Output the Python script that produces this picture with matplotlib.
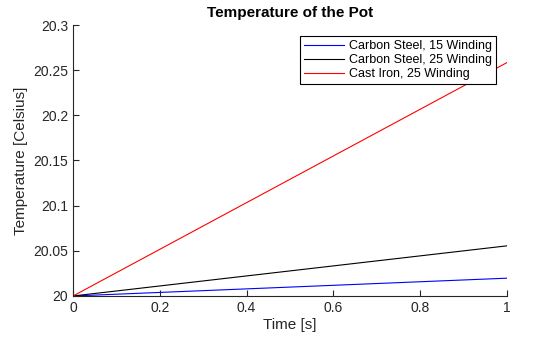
import numpy as np
import matplotlib.pyplot as plt

plt.rcParams['font.family'] = ['Liberation Sans', 'DejaVu Sans']

t = [0, 1]
steel_15 = [20.0, 20.0197]
steel_25 = [20.0, 20.0555]
iron_25 = [20.0, 20.2583]
labels = ['Carbon Steel, 15 Winding', 'Carbon Steel, 25 Winding', 'Cast Iron, 25 Winding']

fig = plt.figure(figsize=(5.6, 3.37), dpi=100)
ax = fig.add_axes([0.1304, 0.1217, 0.905 - 0.1304, 0.9258 - 0.1217])

ax.plot(t, steel_15, color='blue', lw=0.8, label=labels[0])
ax.plot(t, steel_25, color='black', lw=0.8, label=labels[1])
ax.plot(t, iron_25, color='red', lw=0.8, label=labels[2])

ax.set_xlim(0, 1)
ax.set_ylim(20, 20.3)
ax.set_xticks([0, 0.2, 0.4, 0.6, 0.8, 1])
ax.set_xticklabels(['0', '0.2', '0.4', '0.6', '0.8', '1'])
ax.set_yticks([20, 20.05, 20.1, 20.15, 20.2, 20.25, 20.3])
ax.set_yticklabels(['20', '20.05', '20.1', '20.15', '20.2', '20.25', '20.3'])
ax.spines['top'].set_visible(False)
ax.spines['right'].set_visible(False)
for s in ['left', 'bottom']:
    ax.spines[s].set_linewidth(0.8)
    ax.spines[s].set_color('#262626')
ax.tick_params(direction='in', length=4, width=0.8, labelsize=10, colors='#262626')

ax.set_xlabel('Time [s]', fontsize=11, color='#262626', labelpad=2)
ax.set_ylabel('Temperature [Celsius]', fontsize=11, color='#262626', labelpad=4)
ax.set_title('Temperature of the Pot', fontsize=11, fontweight='bold', pad=6)

leg = ax.legend(loc='upper right', bbox_to_anchor=(0.975, 0.958), fontsize=9,
                fancybox=False, framealpha=1, edgecolor='black', borderpad=0.3,
                labelspacing=0.15, handlelength=3.2, handletextpad=0.4, borderaxespad=0)
leg.get_frame().set_linewidth(0.8)

fig.savefig('out.png', dpi=100)
